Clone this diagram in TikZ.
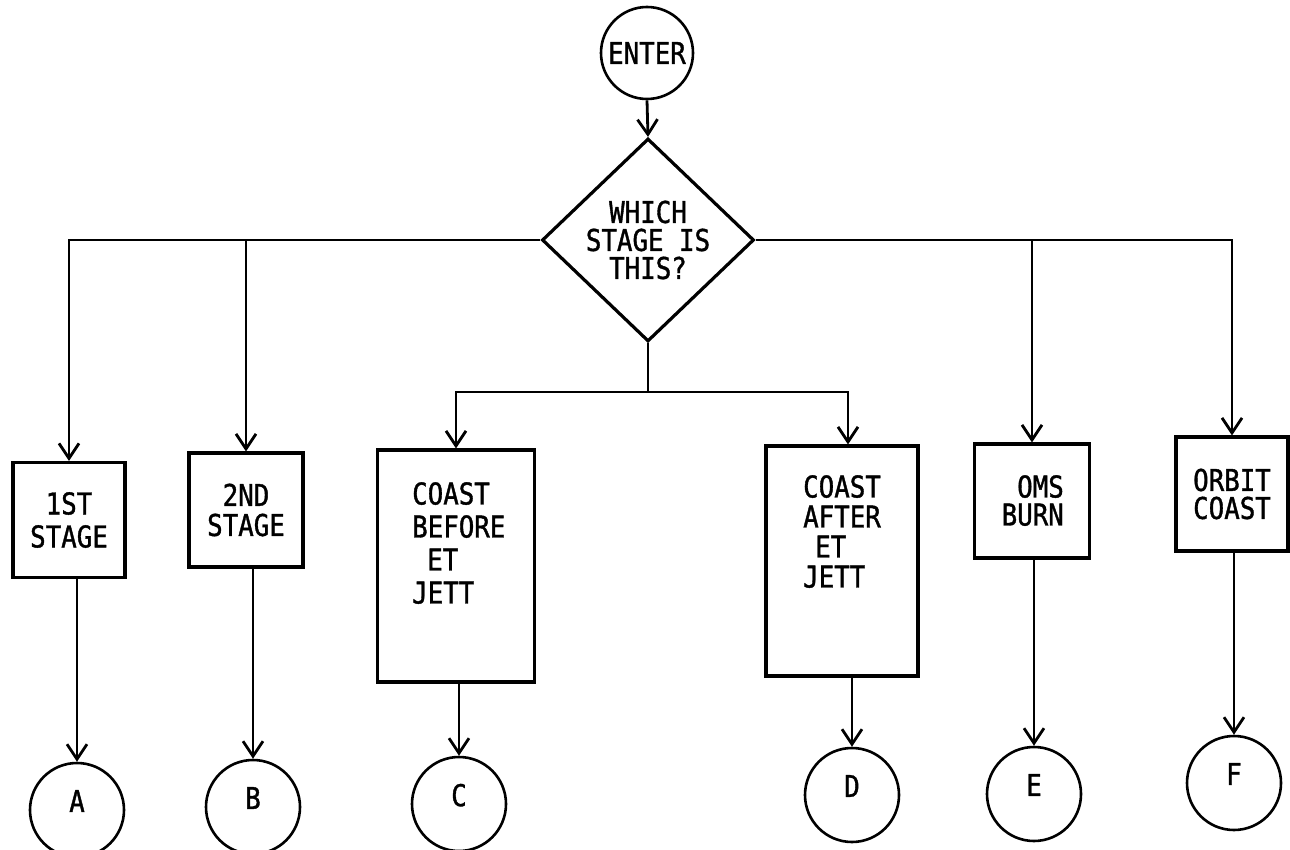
\documentclass[tikz,border=0pt]{standalone}
\usepackage{fontspec}
\newfontfamily\dmono[FakeStretch=0.86,FakeBold=1.2]{DejaVu Sans Mono}
\usetikzlibrary{shapes.geometric,arrows.meta}
\begin{document}
\begin{tikzpicture}[x=1pt,y=-1pt,
  every node/.style={font=\dmono\fontsize{30}{30}\selectfont},
  line/.style={line width=2.8pt},
  arr/.style={line width=2.8pt,-{Straight Barb[length=15pt,width=20pt,line width=2.8pt]}},
  box/.style={draw,rectangle,line width=3.2pt,inner sep=0pt,align=center},
  term/.style={draw,circle,line width=2.6pt,inner sep=0pt,minimum size=94pt},
  conn/.style={term,text depth=18pt},
  dec/.style={draw,diamond,line width=3.2pt,inner sep=0pt,minimum width=212pt,minimum height=140pt,align=center,font=\dmono\fontsize{30}{28}\selectfont},
  lbl/.style={inner sep=0pt}]
\path[use as bounding box,fill=white] (0,0) rectangle (1290,850);

% nodes
\node[term,minimum size=92pt] (enter) at (647,53) {ENTER};
\node[dec] (q) at (648,240) {WHICH\\STAGE IS\\THIS?};

\node[box,minimum width=112pt,minimum height=115pt,font=\dmono\fontsize{30}{33}\selectfont] (b1) at (69,520) {1ST\\STAGE};
\node[box,minimum width=114pt,minimum height=114pt,font=\dmono\fontsize{30}{30}\selectfont] (b2) at (246,510) {2ND\\STAGE};
\node[box,minimum width=157pt,minimum height=232pt] (b3) at (456,566) {};
\node[box,minimum width=152pt,minimum height=230pt] (b4) at (842,561) {};
\node[box,minimum width=115pt,minimum height=114pt] (b5) at (1032,501) {};
\node[box,minimum width=112pt,minimum height=114pt,font=\dmono\fontsize{30}{28}\selectfont] (b6) at (1232,494) {ORBIT\\COAST};

\node[lbl,align=left,anchor=north west,font=\dmono\fontsize{30}{33}\selectfont] (b3t) at (412,482) {COAST\\BEFORE\\\hspace*{0.5em}ET\\JETT};
\node[lbl,align=left,anchor=north west,font=\dmono\fontsize{30}{30}\selectfont] (b4t) at (803,475) {COAST\\AFTER\\\hspace*{0.4em}ET\\JETT};
\node[lbl,align=right,anchor=north east,font=\dmono\fontsize{30}{28}\selectfont] (b5t) at (1064,475) {OMS\\BURN};

\node[conn] (cA) at (77,810) {A};
\node[conn] (cB) at (253,807) {B};
\node[conn] (cC) at (459,804) {C};
\node[conn] (cD) at (852,795) {D};
\node[conn] (cE) at (1034,794) {E};
\node[conn] (cF) at (1234,783) {F};

% connectors
\draw[arr] (enter.south) -- (q.north);
\draw[arr] (q.west) -| (b1.north);
\draw[arr] (q.west -| b2.north) -- (b2.north);
\draw[arr] (q.east) -| (b6.north);
\draw[arr] (q.east -| b5.north) -- (b5.north);
\coordinate (j) at (648,392);
\coordinate (i4) at ([xshift=6pt]b4.north);
\draw[line] (q.south) -- (j);
\draw[arr] (j) -| (b3.north);
\draw[arr] (j) -| (i4);

\draw[arr] (cA.north |- b1.south) -- (cA.north);
\draw[arr] (cB.north |- b2.south) -- (cB.north);
\draw[arr] (cC.north |- b3.south) -- (cC.north);
\draw[arr] (cD.north |- b4.south) -- (cD.north);
\draw[arr] (cE.north |- b5.south) -- (cE.north);
\draw[arr] (cF.north |- b6.south) -- (cF.north);
\end{tikzpicture}
\end{document}
